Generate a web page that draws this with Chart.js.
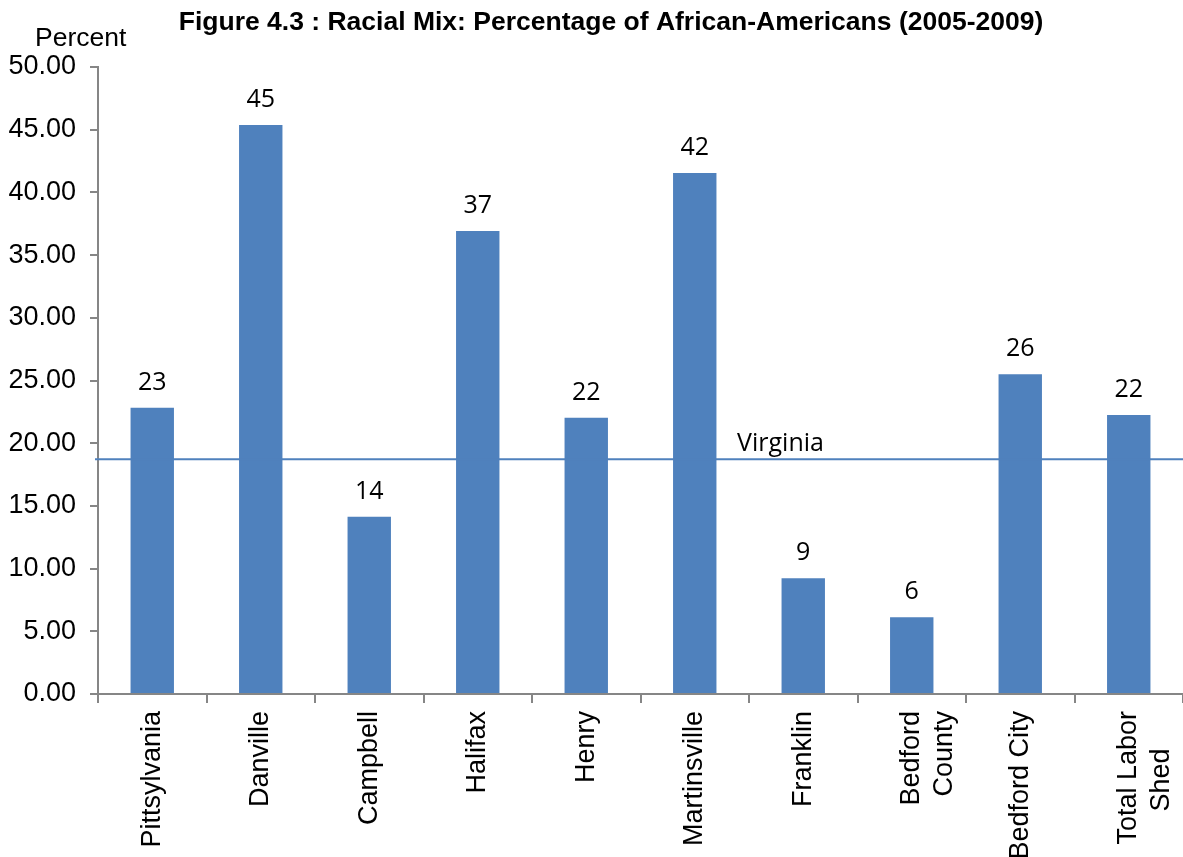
<!DOCTYPE html>
<html>
<head>
<meta charset="utf-8">
<script src="https://cdn.jsdelivr.net/npm/chart.js@4.4.1/dist/chart.umd.min.js"></script>
<style>
  html, body { margin: 0; padding: 0; background: #ffffff; }
  #wrap { width: 1183px; height: 857px; position: relative; }
</style>
</head>
<body>
<div id="wrap"><canvas id="chart"></canvas></div>
<script>
// data
const places = ['Pittsylvania', 'Danville', 'Campbell', 'Halifax', 'Henry', 'Martinsville', 'Franklin', ['Bedford', 'County'], 'Bedford City', ['Total Labor', 'Shed\u00A0\u00A0\u00A0\u00A0\u00A0']];
const pctAfricanAmerican = [22.83, 45.37, 14.14, 36.92, 22.03, 41.55, 9.23, 6.12, 25.5, 22.25];
const virginiaPct = 18.72;
const yTicks = [0, 5, 10, 15, 20, 25, 30, 35, 40, 45, 50];

const chartTitle = 'Figure 4.3 : Racial Mix: Percentage of African-Americans (2005-2009)';
const barColor = '#4F81BD';
const axisColor = '#868686';
const labelFont = '"Liberation Sans", Arial, sans-serif';
const valueFont = '"Open Sans", "Noto Sans", sans-serif';

// title, axis caption, value labels and the Virginia reference line
const decorations = {
    id: 'decorations',
    afterDatasetsDraw(chart) {
        const { ctx, chartArea, scales } = chart;
        const x = scales.x, y = scales.y;
        ctx.save();

        // Virginia line across the plot
        const vy = y.getPixelForValue(virginiaPct);
        ctx.strokeStyle = barColor;
        ctx.lineWidth = 2;
        ctx.beginPath();
        ctx.moveTo(chartArea.left - 3, vy);
        ctx.lineTo(chartArea.right, vy);
        ctx.stroke();

        ctx.fillStyle = '#000';
        ctx.font = '25px ' + valueFont;
        ctx.textAlign = 'left';
        ctx.textBaseline = 'alphabetic';
        ctx.fillText('Virginia', x.getPixelForValue(5.39), vy - 8);

        // values above bars
        ctx.textAlign = 'center';
        const meta = chart.getDatasetMeta(0);
        meta.data.forEach((bar, i) => {
            ctx.fillText(String(Math.round(pctAfricanAmerican[i])), bar.x, bar.y - 18);
        });

        // figure title and axis caption
        ctx.font = 'bold 26.5px ' + labelFont;
        ctx.textBaseline = 'middle';
        ctx.fillText(chartTitle, 611, 23);
        ctx.font = '26.5px ' + labelFont;
        ctx.textAlign = 'left';
        ctx.fillText('Percent', 35, 39);
        ctx.restore();
    }
};

new Chart(document.getElementById('chart'), {
    type: 'bar',
    data: {
        labels: places,
        datasets: [{
            data: pctAfricanAmerican,
            backgroundColor: barColor,
            borderWidth: 0,
            barPercentage: 0.4,
            categoryPercentage: 1.0
        }]
    },
    options: {
        responsive: true,
        maintainAspectRatio: false,
        animation: false,
        layout: { padding: { top: 67, left: 0, right: 0, bottom: 0 } },
        plugins: {
            legend: { display: false },
            tooltip: { enabled: false },
            title: { display: false }
        },
        scales: {
            y: {
                min: 0,
                max: 50,
                afterBuildTicks: axis => { axis.ticks = yTicks.map(v => ({ value: v })); },
                afterFit: axis => { axis.width = 98; },
                ticks: {
                    color: '#000',
                    font: { family: labelFont, size: 27 },
                    padding: 14,
                    callback: v => Number(v).toFixed(2)
                },
                grid: { drawOnChartArea: false, drawTicks: true, tickLength: 8, color: axisColor, lineWidth: 2 },
                border: { display: true, color: axisColor, width: 2 }
            },
            x: {
                offset: true,
                afterFit: axis => { axis.paddingRight = 0; axis.paddingLeft = 0; axis.height = 163; },
                ticks: {
                    color: '#000',
                    font: { family: labelFont, size: 27 },
                    maxRotation: 90,
                    minRotation: 90,
                    padding: 8,
                    autoSkip: false
                },
                grid: { offset: true, drawOnChartArea: false, drawTicks: true, tickLength: 9, color: axisColor, lineWidth: 2 },
                border: { display: true, color: axisColor, width: 2 }
            }
        }
    },
    plugins: [decorations]
});
</script>
</body>
</html>
